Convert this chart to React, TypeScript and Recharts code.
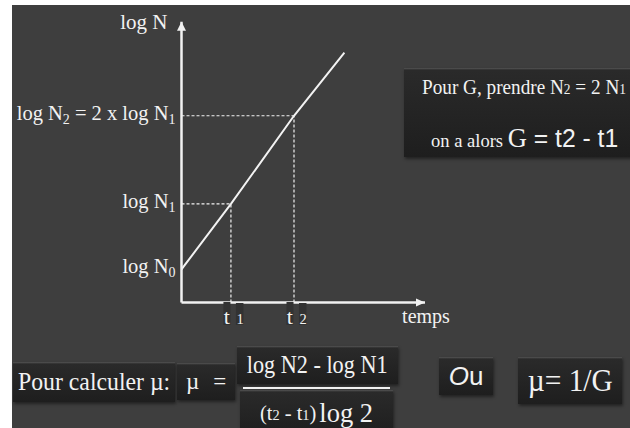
import React from "react";
import { LineChart, Line, XAxis, YAxis, ReferenceLine, ReferenceDot } from "recharts";

// croissance exponentielle : log N en fonction du temps (unités arbitraires)
const TEMPS = [0, 2.03, 4.62, 6.69];
const LOG_N = [1.18, 3.51, 6.65, 8.9];
const T_MAX = 10;
const LOG_N_MAX = 10;

// graduations et libellés des axes
const X_TICKS = [TEMPS[1], TEMPS[2]];
const X_TICK_LABELS = [["t", "1"], ["t", "2"]];
const Y_TICKS = [LOG_N[0], LOG_N[1], LOG_N[2]];
// [texte, indice ?]
const Y_TICK_LABELS: [string, boolean][][] = [
  [["log N", false], ["0", true]],
  [["log N", false], ["1", true]],
  [["log N", false], ["2", true], [" = 2 x log N", false], ["1", true]],
];
const Y_TITLE = "log N";
const X_TITLE = "temps";

const data = TEMPS.map((t, i) => ({ t, logN: LOG_N[i] }));

const FG = "#f2f2f2";
const BG = "#3e3e3e";
const SERIF = "'Liberation Serif', 'Times New Roman', serif";
const SANS = "'Liberation Sans', Arial, sans-serif";

function YTick({ x, y, payload }: any) {
  const parts = Y_TICK_LABELS[Y_TICKS.indexOf(payload.value)] ?? [];
  return (
    <text x={x + 2} y={y + 4} textAnchor="end" fill={FG} fontFamily={SERIF} fontSize={20.5}>
      {parts.map(([s, sub], i) => {
        const prevSub = i > 0 && parts[i - 1][1];
        const dy = sub ? 4 : prevSub ? -4 : 0;
        return (
          <tspan key={i} dy={dy} fontSize={sub ? 14 : 20.5}>
            {s}
          </tspan>
        );
      })}
    </text>
  );
}

function XTick({ x, y, payload }: any) {
  const lbl = X_TICK_LABELS[X_TICKS.indexOf(payload.value)];
  if (!lbl) return null;
  return (
    <g>
      <rect x={x - 7.5} y={y - 8.5} width={7} height={23} fill="#323232" />
      <rect x={x + 5} y={y - 7.5} width={7.5} height={22} fill="#323232" />
      <text x={x - 1} y={y + 13.5} textAnchor="end" fill={FG} fontFamily={SERIF} fontSize={22}>
        {lbl[0]}
      </text>
      <text x={x + 5.5} y={y + 13.5} textAnchor="start" fill={FG} fontFamily={SERIF} fontSize={14.5}>
        {lbl[1]}
      </text>
    </g>
  );
}

const ArrowUp = ({ cx, cy }: any) => (
  <g>
    <path d={`M${cx},${cy} L${cx - 4.5},${cy + 9} L${cx + 4.5},${cy + 9} Z`} fill={FG} />
    <text x={cx - 14} y={cy + 7.5} textAnchor="end" fill={FG} fontFamily={SERIF} fontSize={21}>
      {Y_TITLE}
    </text>
  </g>
);

const ArrowRight = ({ cx, cy }: any) => (
  <g>
    <path d={`M${cx},${cy} L${cx - 9},${cy - 4} L${cx - 9},${cy + 4} Z`} fill={FG} />
    <text x={cx + 1} y={cy + 20.5} textAnchor="middle" fill={FG} fontFamily={SERIF} fontSize={20}>
      {X_TITLE}
    </text>
  </g>
);

function Box({ left, top, width, height, children, style }: any) {
  return (
    <div
      style={{
        position: "absolute",
        left,
        top,
        width,
        height,
        background: "linear-gradient(to bottom, #555 0px, #2a2a2a 2px, #1e1e1e 100%)",
        boxShadow: "1px 2px 3px rgba(0,0,0,0.45)",
        display: "flex",
        alignItems: "center",
        justifyContent: "center",
        color: FG,
        fontFamily: SERIF,
        whiteSpace: "nowrap",
        ...style,
      }}
    >
      {children}
    </div>
  );
}

const small = { fontSize: "0.7em" };
const narrow = (k: number, origin = "center") => ({
  display: "inline-block",
  transform: `scaleX(${k})`,
  transformOrigin: origin,
});

export default function App() {
  return (
    <div style={{ position: "absolute", left: 0, top: 0, width: 630, height: 428, background: "#fff", overflow: "hidden" }}>
      <div style={{ position: "absolute", left: 12, top: 5, width: 618, height: 423, background: BG }}>
        <LineChart
          width={618}
          height={423}
          data={data}
          margin={{ top: 16.7, right: 205, left: 9.5, bottom: 95.5 }}
        >
          <XAxis
            dataKey="t"
            type="number"
            domain={[0, T_MAX]}
            ticks={X_TICKS}
            interval={0}
            tick={<XTick />}
            tickLine={false}
            axisLine={{ stroke: FG, strokeWidth: 2.5 }}
            height={30}
            allowDataOverflow
          />
          <YAxis
            type="number"
            domain={[0, LOG_N_MAX]}
            ticks={Y_TICKS}
            interval={0}
            tick={<YTick />}
            tickLine={false}
            axisLine={{ stroke: FG, strokeWidth: 2.5 }}
            width={160}
            allowDataOverflow
          />
          <ReferenceLine
            segment={[{ x: 0, y: LOG_N[1] }, { x: TEMPS[1], y: LOG_N[1] }]}
            stroke={FG}
            strokeWidth={1.2}
            strokeDasharray="3 2"
          />
          <ReferenceLine
            segment={[{ x: TEMPS[1], y: 0 }, { x: TEMPS[1], y: LOG_N[1] }]}
            stroke={FG}
            strokeWidth={1.2}
            strokeDasharray="3 2"
          />
          <ReferenceLine
            segment={[{ x: 0, y: LOG_N[2] }, { x: TEMPS[2], y: LOG_N[2] }]}
            stroke={FG}
            strokeWidth={1.2}
            strokeDasharray="3 2"
          />
          <ReferenceLine
            segment={[{ x: TEMPS[2], y: 0 }, { x: TEMPS[2], y: LOG_N[2] }]}
            stroke={FG}
            strokeWidth={1.2}
            strokeDasharray="3 2"
          />
          <Line
            type="linear"
            dataKey="logN"
            stroke={FG}
            strokeWidth={2}
            dot={false}
            activeDot={false}
            isAnimationActive={false}
          />
          <ReferenceDot x={0} y={LOG_N_MAX} r={1} shape={ArrowUp} />
          <ReferenceDot x={T_MAX} y={0} r={1} shape={ArrowRight} />
        </LineChart>
      </div>

      <Box left={404} top={68} width={240} height={89} style={{ display: "block" }}>
        <div style={{ position: "absolute", left: 18, top: 6, lineHeight: "26px", fontSize: 20 }}>
          <span style={narrow(0.96, "left")}>
            Pour G, prendre N<span style={small}>2</span> = 2 N<span style={small}>1</span>
          </span>
        </div>
        <div style={{ position: "absolute", left: 27, top: 52, lineHeight: "36px" }}>
          <span style={narrow(0.95, "left")}>
            <span style={{ fontSize: 19.5 }}>on a alors </span>
            <span style={{ fontSize: 28 }}>G</span>
            <span style={{ fontSize: 26, fontFamily: SANS }}> = t2 - t1</span>
          </span>
        </div>
      </Box>

      <Box left={13} top={362} width={162} height={40} style={{ fontSize: 25 }}>
        <span style={narrow(0.95)}>Pour calculer µ:</span>
      </Box>
      <Box left={177} top={363} width={58} height={37} style={{ fontSize: 23 }}>
        <span>µ</span>
        <span style={{ marginLeft: 14 }}>=</span>
      </Box>
      <Box left={236.5} top={346} width={161.5} height={38} style={{ fontSize: 25 }}>
        <span style={narrow(0.89)}>log N2 - log N1</span>
      </Box>
      <div style={{ position: "absolute", left: 243, top: 386.5, width: 147, height: 2.5, background: FG }} />
      <Box left={240} top={390} width={153} height={46}>
        <span style={{ fontSize: 20.5 }}>
          (t<span style={small}>2</span> - t<span style={small}>1</span>)
        </span>
        <span style={{ fontSize: 26.5, marginLeft: 3 }}>log 2</span>
      </Box>
      <Box left={439} top={357} width={54} height={38} style={{ fontFamily: SANS, fontSize: 26 }}>
        <span style={{ fontStyle: "italic" }}>O</span>u
      </Box>
      <Box left={518} top={357} width={103.5} height={47} style={{ fontSize: 32 }}>
        <span style={narrow(0.92)}>µ= 1/G</span>
      </Box>
    </div>
  );
}
